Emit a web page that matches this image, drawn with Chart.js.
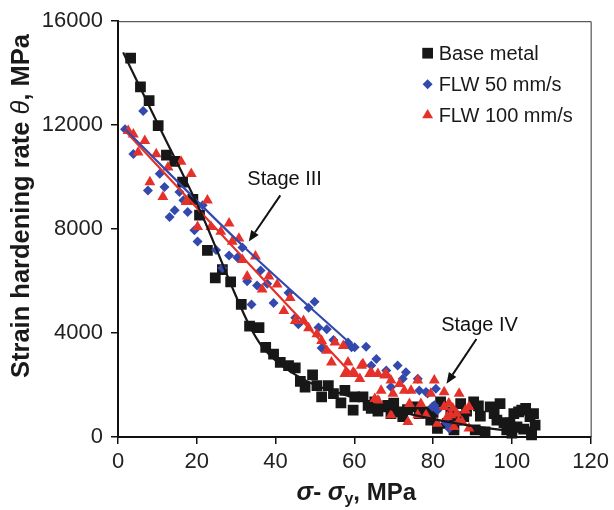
<!DOCTYPE html>
<html>
<head>
<meta charset="utf-8">
<script src="https://cdn.jsdelivr.net/npm/chart.js@4.4.1/dist/chart.umd.min.js"></script>
<style>
    html, body { margin: 0; padding: 0; background: #fff; }
    #wrap { width: 614px; height: 510px; position: relative; }
</style>
</head>
<body>
<div id="wrap"><canvas id="myChart"></canvas></div>
<script>
// series labels
const seriesNames = ['Base metal', 'FLW 50 mm/s', 'FLW 100 mm/s'];

// Base metal (sigma - sigma_y, theta)
const baseX = [3.2, 5.7, 7.9, 10.2, 12.3, 14.4, 16.4, 19.0, 20.7, 22.7, 24.7, 26.5, 28.6, 31.3, 33.4, 35.8,
    37.5, 39.5, 41.2, 43.3, 45.0, 46.3, 47.5, 49.4, 50.5, 51.7, 53.4, 54.7, 56.6, 57.6, 59.7, 60.1,
    62.2, 63.5, 64.3, 65.2, 67.3, 68.5, 69.3, 71.0, 72.3, 75.2, 77.8, 79.4, 81.1, 81.9, 83.6, 84.5,
    85.3, 87.0, 87.8, 90.3, 90.7, 92.0, 93.2, 94.5, 96.2, 97.0, 98.7, 99.5, 100.5, 101.3, 101.7,
    102.5, 103.0, 104.6, 105.0, 105.5, 105.9, 105.0, 73.5, 76.5, 80.0, 86.0, 88.5, 91.5, 95.5,
    98.0, 100.0, 103.5, 70.0, 66.0];
const baseY = [14580, 13470, 12940, 11980, 10850, 10610, 9810, 9140, 8540, 7180, 6120, 6440, 5970, 5100, 4270, 4210,
    3450, 3190, 2870, 2750, 2660, 2140, 1920, 2390, 1980, 1540, 1980, 1670, 1310, 1790, 1030, 1540,
    1540, 1220, 1100, 1350, 1160, 1220, 900, 970, 780, 1160, 970, 650, 330, 1350, 520, 970,
    270, 1280, 780, 1350, 270, 800, 200, 1160, 650, 1280, 270, 530, 900, 390, 970,
    1030, 300, 780, 200, 900, 460, 80, 1050, 900, 950, 650, 1000, 1200, 900,
    550, 150, 1100, 1300, 1000];

// FLW 50 mm/s
const flw50X = [1.8, 3.9, 6.4, 7.6, 10.6, 11.8, 13.1, 14.4, 15.6, 16.6, 17.7, 19.4, 20.2, 21.5, 24.9, 26.5,
    28.2, 30.3, 31.6, 32.8, 33.9, 35.3, 36.2, 37.9, 39.5, 43.3, 45.0, 45.8, 48.4, 49.9, 50.9, 51.7,
    53.0, 54.7, 58.4, 59.3, 60.1, 63.0, 64.3, 65.6, 68.1, 69.3, 71.0, 72.3, 73.1, 76.1, 76.5, 78.2,
    78.6, 79.8, 80.3, 80.7, 81.1, 83.2, 83.6, 84.1];
const flw50Y = [11840, 10890, 12540, 9490, 10130, 9620, 8470, 8730, 9430, 9110, 8660, 7960, 7520, 8920, 7200, 6500,
    6980, 6910, 7290, 5990, 5100, 5830, 6410, 5900, 5160, 5550, 4590, 4340, 4970, 5200, 4210, 3420,
    4150, 3730, 3640, 3450, 3450, 3470, 2750, 3000, 2560, 1920, 2750, 2240, 2490, 2240, 1790, 1730,
    1670, 1160, 1220, 1860, 1030, 580, 520, 330];

// FLW 100 mm/s
const flw100X = [2.6, 3.9, 5.1, 6.8, 8.1, 9.7, 11.4, 12.7, 16.0, 17.3, 18.6, 20.2, 22.7, 23.6, 26.1, 28.2,
    29.0, 30.7, 31.6, 32.8, 34.9, 36.6, 38.3, 40.4, 42.1, 43.7, 45.0, 47.1, 48.4, 50.5, 51.7, 53.0,
    54.2, 55.1, 57.2, 57.6, 58.0, 58.4, 59.7, 60.1, 61.4, 61.8, 62.2, 63.9, 64.3, 65.2, 66.0, 66.0,
    66.8, 67.7, 68.1, 69.3, 69.3, 69.8, 71.5, 72.7, 73.6, 74.0, 74.4, 76.1, 76.1, 76.9, 78.2, 79.4,
    80.3, 81.1, 82.8, 82.8, 83.6, 84.0, 84.5, 85.0, 85.3, 86.0, 86.5, 86.6, 87.4, 88.2, 89.1, 89.1];
const flw100Y = [11780, 11650, 10950, 11400, 9810, 10890, 9240, 10380, 10600, 9050, 10130, 8090, 9110, 8090, 7900, 8220,
    7520, 7640, 6820, 6180, 6950, 5680, 6180, 5870, 4850, 5350, 4470, 4470, 4190, 3960, 3700, 3320,
    2870, 3640, 3510, 2430, 2490, 2870, 2490, 2430, 2240, 2750, 2810, 2430, 2490, 1470, 2430, 1410,
    1790, 2370, 2430, 2180, 840, 1670, 2050, 1790, 580, 1280, 1790, 2180, 840, 1280, 840, 1670,
    2180, 520, 1730, 1160, 780, 1300, 840, 1100, 390, 900, 600, 1670, 580, 1030, 330, 1160];

// fitted trend lines
const baseFitX = [1.3, 10, 20.6, 33.2, 36.5, 40, 45, 50, 56, 65, 75, 90, 105];
const baseFitY = [14800, 12080, 8790, 4340, 3500, 2950, 2400, 2000, 1700, 1250, 850, 420, 150];
const flw50FitX = [1.8, 33.2, 60.1];
const flw50FitY = [11840, 7140, 3450];
const flw100FitX = [1.8, 30.3, 59.3];
const flw100FitY = [11780, 7140, 2430];

// axis ticks
const xTicks = [0, 20, 40, 60, 80, 100, 120];
const yTicks = [0, 4000, 8000, 12000, 16000];

// annotations, in data units
const stageNotes = [
    { text: 'Stage III', tx: 42.3, ty: 9690, fromX: 41.2, fromY: 9300, toX: 33.2, toY: 7520 },
    { text: 'Stage IV', tx: 91.8, ty: 4084, fromX: 91.0, fromY: 3770, toX: 83.4, toY: 2050 }
];

const FONT = "'Liberation Sans', Arial, Helvetica, sans-serif";
const colBlack = '#171717';
const colBlue = '#3449ad';
const colRed = '#e4322b';

function toPoints(xs, ys) {
    return xs.map((x, i) => ({ x: x, y: ys[i] }));
}

function drawRuns(ctx, runs, cx, cy) {
    let total = 0;
    runs.forEach(r => { ctx.font = r.f; total += ctx.measureText(r.t).width; });
    let x = cx - total / 2;
    runs.forEach(r => {
        ctx.font = r.f;
        ctx.fillText(r.t, x, cy + (r.dy || 0));
        x += ctx.measureText(r.t).width;
    });
}

function drawArrow(ctx, x1, y1, x2, y2) {
    const ang = Math.atan2(y2 - y1, x2 - x1);
    const head = 11, half = 4.5;
    const bx = x2 - Math.cos(ang) * head, by = y2 - Math.sin(ang) * head;
    ctx.beginPath();
    ctx.moveTo(x1, y1);
    ctx.lineTo(bx, by);
    ctx.stroke();
    ctx.beginPath();
    ctx.moveTo(x2, y2);
    ctx.lineTo(bx + Math.sin(ang) * half, by - Math.cos(ang) * half);
    ctx.lineTo(bx - Math.sin(ang) * half, by + Math.cos(ang) * half);
    ctx.closePath();
    ctx.fill();
}

const decorations = {
    id: 'decorations',
    afterDraw(chart) {
        const ctx = chart.ctx;
        const area = chart.chartArea;
        const sx = chart.scales.x, sy = chart.scales.y;
        ctx.save();

        // top and right frame
        ctx.strokeStyle = '#333';
        ctx.lineWidth = 1;
        ctx.beginPath();
        ctx.moveTo(area.left, area.top + 0.5);
        ctx.lineTo(area.right + 0.5, area.top + 0.5);
        ctx.lineTo(area.right + 0.5, area.bottom);
        ctx.stroke();

        // axis titles
        ctx.fillStyle = '#1a1a1a';
        ctx.textBaseline = 'middle';
        ctx.textAlign = 'left';
        drawRuns(ctx, [
            { t: '\u03c3', f: 'italic bold 25px ' + FONT },
            { t: '- ', f: 'bold 24px ' + FONT },
            { t: '\u03c3', f: 'italic bold 25px ' + FONT },
            { t: 'y', f: 'bold 16px ' + FONT, dy: 7 },
            { t: ', MPa', f: 'bold 24px ' + FONT }
        ], (area.left + area.right) / 2 + 2, 493);

        ctx.save();
        ctx.translate(22, 206);
        ctx.rotate(-Math.PI / 2);
        drawRuns(ctx, [
            { t: 'Strain hardening rate ', f: 'bold 25.5px ' + FONT },
            { t: '\u03b8', f: 'italic 25.5px ' + FONT },
            { t: ', MPa', f: 'bold 25.5px ' + FONT }
        ], 0, 0);
        ctx.restore();

        // stage notes
        ctx.font = '20px ' + FONT;
        ctx.textAlign = 'center';
        ctx.textBaseline = 'alphabetic';
        ctx.strokeStyle = '#111';
        ctx.fillStyle = '#111';
        ctx.lineWidth = 2;
        stageNotes.forEach(n => {
            ctx.fillText(n.text, sx.getPixelForValue(n.tx), sy.getPixelForValue(n.ty));
            drawArrow(ctx, sx.getPixelForValue(n.fromX), sy.getPixelForValue(n.fromY),
                sx.getPixelForValue(n.toX), sy.getPixelForValue(n.toY));
        });

        // legend
        const lx = area.right - 163;
        const rows = [area.top + 32, area.top + 63, area.top + 94];
        ctx.textAlign = 'left';
        ctx.textBaseline = 'middle';
        ctx.font = '20px ' + FONT;
        [0, 1, 2].forEach(i => {
            const ds = chart.data.datasets[i];
            ctx.fillStyle = ds.backgroundColor;
            Chart.helpers.drawPoint(ctx, {
                pointStyle: ds.pointStyle, radius: ds.pointRadius, borderWidth: 0, rotation: 0
            }, lx, rows[i]);
            ctx.fillStyle = '#1a1a1a';
            ctx.fillText(ds.label, lx + 11, rows[i] + 1);
        });

        ctx.restore();
    }
};

const tickFont = { family: FONT, size: 22 };

new Chart(document.getElementById('myChart'), {
    type: 'scatter',
    data: {
        datasets: [
            {
                label: seriesNames[0], data: toPoints(baseX, baseY), pointStyle: 'rect',
                pointRadius: 7.6, backgroundColor: colBlack, borderWidth: 0, order: 6, clip: 10
            },
            {
                label: seriesNames[1], data: toPoints(flw50X, flw50Y), pointStyle: 'rectRot',
                pointRadius: 5, backgroundColor: colBlue, borderWidth: 0, order: 5, clip: 10
            },
            {
                label: seriesNames[2], data: toPoints(flw100X, flw100Y), pointStyle: 'triangle',
                pointRadius: 6.3, backgroundColor: colRed, borderWidth: 0, order: 4, clip: 10
            },
            {
                type: 'line', label: 'base fit', data: toPoints(baseFitX, baseFitY), borderColor: colBlack,
                borderWidth: 2.2, pointRadius: 0, cubicInterpolationMode: 'monotone', order: 1
            },
            {
                type: 'line', label: 'flw50 fit', data: toPoints(flw50FitX, flw50FitY), borderColor: colBlue,
                borderWidth: 2.2, pointRadius: 0, cubicInterpolationMode: 'monotone', order: 2
            },
            {
                type: 'line', label: 'flw100 fit', data: toPoints(flw100FitX, flw100FitY), borderColor: colRed,
                borderWidth: 2.2, pointRadius: 0, cubicInterpolationMode: 'monotone', order: 3
            }
        ]
    },
    options: {
        responsive: true,
        maintainAspectRatio: false,
        animation: false,
        layout: { padding: { left: 0, top: 17, right: 19, bottom: 0 } },
        scales: {
            x: {
                type: 'linear', min: 0, max: 120,
                afterFit: s => { s.height = 73; },
                afterBuildTicks: s => { s.ticks = xTicks.map(v => ({ value: v })); },
                ticks: { color: '#222', font: tickFont, padding: 5, callback: v => String(v) },
                grid: { drawOnChartArea: false, color: '#111', tickLength: 7, lineWidth: 1.5 },
                border: { color: '#111', width: 2 }
            },
            y: {
                type: 'linear', min: 0, max: 16000,
                afterFit: s => { s.width = 118; },
                afterBuildTicks: s => { s.ticks = yTicks.map(v => ({ value: v })); },
                ticks: { color: '#222', font: tickFont, padding: 8, callback: v => String(v) },
                grid: { drawOnChartArea: false, color: '#111', tickLength: 7, lineWidth: 1.5 },
                border: { color: '#111', width: 2 }
            }
        },
        plugins: {
            legend: { display: false },
            tooltip: { enabled: false }
        }
    },
    plugins: [decorations]
});
</script>
</body>
</html>
